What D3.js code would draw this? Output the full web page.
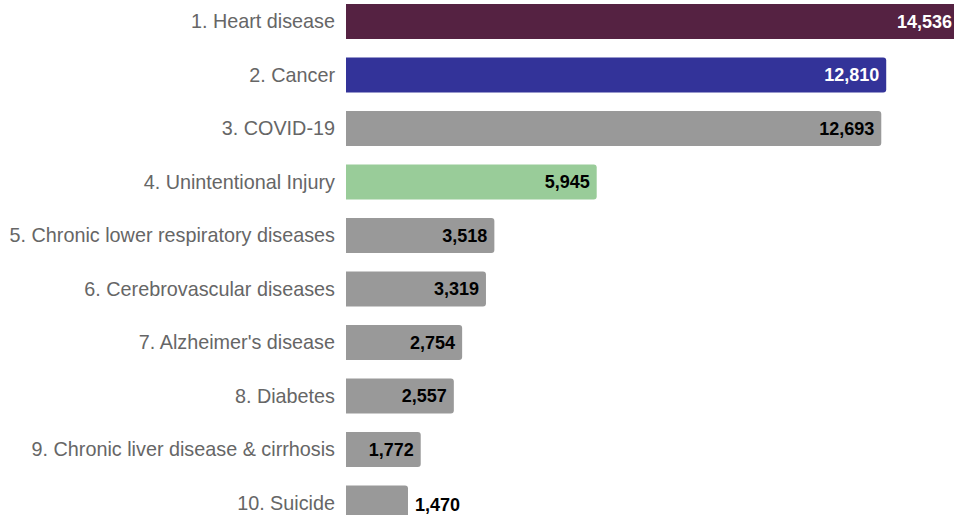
<!DOCTYPE html>
<html>
<head>
<meta charset="utf-8">
<script src="https://cdn.jsdelivr.net/npm/d3@7"></script>
<style>
  html, body { margin: 0; padding: 0; background: #fff; overflow: hidden; }
  svg { display: block; }
</style>
</head>
<body>
<svg id="chart" width="954" height="515"></svg>
<script>
const categories = [
  "1. Heart disease",
  "2. Cancer",
  "3. COVID-19",
  "4. Unintentional Injury",
  "5. Chronic lower respiratory diseases",
  "6. Cerebrovascular diseases",
  "7. Alzheimer's disease",
  "8. Diabetes",
  "9. Chronic liver disease & cirrhosis",
  "10. Suicide"
];
const values = [14536, 12810, 12693, 5945, 3518, 3319, 2754, 2557, 1772, 1470];
const barColors = ["#552242", "#333399", "#999999", "#99cc99", "#999999", "#999999", "#999999", "#999999", "#999999", "#999999"];
const valueLabelColors = ["#ffffff", "#ffffff", "#000000", "#000000", "#000000", "#000000", "#000000", "#000000", "#000000", "#000000"];

const svg = d3.select("#chart");
const x0 = 346;
const x = d3.scaleLinear().domain([0, 14536]).range([x0, 959]);
const y = d3.scaleBand().domain(categories).range([-5.25, 529.75]).paddingInner(0.346).paddingOuter(0.173);

const data = categories.map((c, i) => ({ c, v: values[i], fill: barColors[i], lc: valueLabelColors[i] }));

function barPath(d) {
  const x1 = x0, x2 = x(d.v), y1 = y(d.c), h = y.bandwidth(), r = 3;
  return `M${x1},${y1}H${x2 - r}Q${x2},${y1} ${x2},${y1 + r}V${y1 + h - r}Q${x2},${y1 + h} ${x2 - r},${y1 + h}H${x1}Z`;
}

svg.selectAll("path.bar").data(data).join("path")
  .attr("class", "bar")
  .attr("d", barPath)
  .attr("fill", d => d.fill);

// category axis labels
const yAxis = d3.axisLeft(y).tickSize(0).tickPadding(11);
const ax = svg.append("g").attr("transform", `translate(${x0},0)`).call(yAxis);
ax.select(".domain").remove();
ax.selectAll("text")
  .attr("font-family", "'Liberation Sans', Arial, sans-serif")
  .attr("font-size", "19.8px")
  .attr("fill", "#666666")
  .attr("dy", "0.34em");

const fmt = d3.format(",");
const labels = svg.selectAll("text.val").data(data).join("text")
  .attr("class", "val")
  .attr("font-family", "'Liberation Sans', Arial, sans-serif")
  .attr("font-size", "18px")
  .attr("font-weight", "bold")
  .attr("y", d => y(d.c) + y.bandwidth() / 2)
  .attr("dy", "0.35em")
  .text(d => fmt(d.v));

labels.each(function(d) {
  const t = d3.select(this);
  const w = this.getComputedTextLength();
  const bw = x(d.v) - x0;
  if (w + 20 > bw) {
    t.attr("x", x(d.v) + 7).attr("text-anchor", "start").attr("fill", "#000000")
     .attr("dy", "0.45em");
  } else {
    t.attr("x", x(d.v) - 7).attr("text-anchor", "end").attr("fill", d.lc);
  }
});
</script>
</body>
</html>
